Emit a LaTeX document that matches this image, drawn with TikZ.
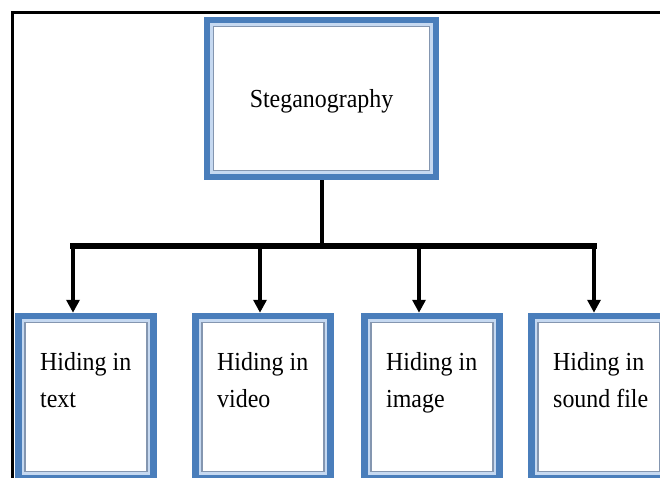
\documentclass[tikz,border=0pt]{standalone}
\usepackage{fontspec}
\setmainfont[FakeStretch=0.92]{Liberation Serif}
\usetikzlibrary{arrows.meta,calc}
\definecolor{boxblue}{HTML}{4A7EBB}
\definecolor{bandblue}{HTML}{C6D9F1}
\definecolor{rimblue}{HTML}{8496B0}
\begin{document}
\begin{tikzpicture}[x=1pt,y=-1pt,
  stegbox/.style={draw=boxblue, line width=6.5pt, fill=bandblue, inner sep=0pt,
    path picture={\draw[rimblue, line width=1.2pt, fill=white]
      ($(path picture bounding box.north west)+(6.5,6.5)$) rectangle
      ($(path picture bounding box.south east)+(-6.5,-6.5)$);}},
  lbl/.style={anchor=north west, inner sep=0pt, align=left,
    font=\fontsize{26}{37}\selectfont},
  trunk/.style={line width=4pt},
  rail/.style={line width=6pt, line cap=rect},
  branch/.style={line width=4pt, -{Triangle[length=13pt,width=13pt]}},
  frameline/.style={line width=3pt}]
\useasboundingbox (0,0) rectangle (660,478);
\clip (0,0) rectangle (660,478);
\fill[white] (0,0) rectangle (660,478);

% outer frame
\draw[frameline] (12,480) -- (12,13) -- (662,13);

% root box
\node[stegbox, minimum width=229pt, minimum height=157pt,
      text height=22pt, text depth=4pt,
      font=\fontsize{26}{30}\selectfont] (root) at (321.5,98.5) {Steganography};

% leaf boxes
\node[stegbox, minimum width=135pt, minimum height=162pt] (b1) at (86,397) {};
\node[stegbox, minimum width=135pt, minimum height=162pt] (b2) at (263,397) {};
\node[stegbox, minimum width=135pt, minimum height=162pt] (b3) at (432,397) {};
\node[stegbox, minimum width=135pt, minimum height=162pt] (b4) at (599,397) {};

% leaf labels
\node[lbl] (t1) at (40,352) {Hiding in\\text};
\node[lbl] (t2) at (217,352) {Hiding in\\video};
\node[lbl] (t3) at (386,352) {Hiding in\\image};
\node[lbl] (t4) at (553,352) {Hiding in\\sound file};

% connectors
\coordinate (hub) at (322,246);
\coordinate (j1) at (73,246);
\coordinate (j2) at (260,246);
\coordinate (j3) at (419,246);
\coordinate (j4) at (594,246);

\draw[trunk] (root.south -| hub) -- (hub);
\draw[rail] (j1) -- (j4);
\draw[branch] (j1) -- (j1 |- b1.north);
\draw[branch] (j2) -- (j2 |- b2.north);
\draw[branch] (j3) -- (j3 |- b3.north);
\draw[branch] (j4) -- (j4 |- b4.north);
\end{tikzpicture}
\end{document}
